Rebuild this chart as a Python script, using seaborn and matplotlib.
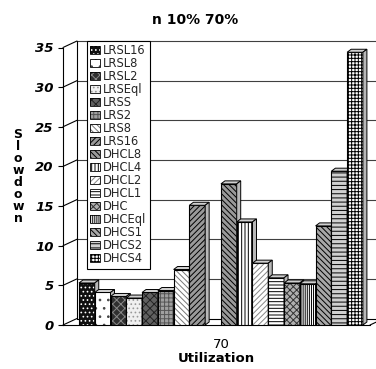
import matplotlib
matplotlib.use("Agg")
import matplotlib.pyplot as plt
from matplotlib.patches import Polygon, Rectangle, Patch
from matplotlib.legend_handler import HandlerTuple
from matplotlib.lines import Line2D
import pandas as pd
import seaborn as sns

# ---- data -------------------------------------------------------------
series = ["LRSL16", "LRSL8", "LRSL2", "LRSEql", "LRSS", "LRS2", "LRS8", "LRS16",
          "DHCL8", "DHCL4", "DHCL2", "DHCL1", "DHC", "DHCEql", "DHCS1", "DHCS2", "DHCS4"]
slowdown = [5.3, 4.1, 3.6, 3.4, 4.1, 4.35, 7.0, 15.1,
            17.8, 13.0, 7.8, 5.95, 5.3, 5.2, 12.5, 19.4, 34.4]
utilization = ["70"]
yticks = [0, 5, 10, 15, 20, 25, 30, 35]

# ---- fill / hatch styling per series ------------------------------------
faces = ["#101010", "white", "#303030", "#f0f0f0", "#606060", "#a0a0a0", "white", "#9a9a9a",
         "#999999", "white", "white", "white", "#b0b0b0", "white", "#a8a8a8", "#d0d0d0", "white"]
hatches = ["....", "..", "xxxx", "....", "xxxx", "++++", "\\\\\\\\\\\\", "//////",
           "\\\\\\\\\\\\", "|||||", "//////", "-----", "xxxxx", "||||||||", "\\\\\\\\\\\\", "----", "+++++"]
hatch_colors = ["white", "#444444", "#888888", "#999999", "#222222", "#555555", "#777777", "black",
                "black", "black", "#888888", "black", "#333333", "black", "black", "black", "black"]

# the two scheduler families are separated by one empty slot
spacer = " "
hue_order = series[:8] + [spacer] + series[8:]

df = pd.DataFrame({
    "Utilization": utilization * len(series),
    "series": series,
    "Slowdown": slowdown,
})

sns.set_theme(style="white")
plt.rcParams["font.family"] = ["DejaVu Sans"]
plt.rcParams["hatch.linewidth"] = 0.7

W, H = 376, 369
fig = plt.figure(figsize=(W / 100, H / 100), dpi=100)
fig.patch.set_facecolor("white")

ax_left, ax_right, ax_bottom, ax_top = 63, 370, 325, 47.5
ax = fig.add_axes([ax_left / W, (H - ax_bottom) / H,
                   (ax_right - ax_left) / W, (ax_bottom - ax_top) / H])
ax.set_facecolor("none")

palette = {name: "white" for name in hue_order}
sns.barplot(data=df, x="Utilization", y="Slowdown", hue="series", hue_order=hue_order,
            palette=palette, dodge=True, width=0.8, errorbar=None, saturation=1,
            legend=False, ax=ax)

ax.set_xlim(-0.445, 0.42)
ax.set_ylim(0, 35)
ax.set_yticks(yticks)

# pixel -> data conversion for the 3-D depth effect
x0l, x1l = ax.get_xlim()
px_x = (x1l - x0l) / (ax_right - ax_left)
px_y = 35 / (ax_bottom - ax_top)

# ---- back wall, floor and gridlines -------------------------------------
wdx, wdy = 14 * px_x, 6.5 * px_y
frame_kw = dict(color="black", lw=0.8, clip_on=False, zorder=1)
for t in yticks:
    ax.add_line(Line2D([x0l, x0l + wdx], [t, t + wdy], **frame_kw))
    ax.add_line(Line2D([x0l + wdx, x1l + wdx], [t + wdy, t + wdy],
                       color="#404040" if t else "black", lw=0.8, clip_on=False, zorder=1))
ax.add_line(Line2D([x0l + wdx, x0l + wdx], [wdy, 35 + wdy], **frame_kw))
ax.add_line(Line2D([x1l, x1l + wdx], [0, wdy], **frame_kw))

# ---- bars: front face + top + side -------------------------------------
bars = sorted([p for p in ax.patches if isinstance(p, Rectangle) and p.get_height() > 0],
              key=lambda p: p.get_x())
bdx, bdy = 4 * px_x, 3 * px_y
for i, (p, fc, ht, hc) in enumerate(zip(bars, faces, hatches, hatch_colors)):
    z = 3 + i * 0.01
    p.set_facecolor(fc)
    p.set_hatch(ht)
    p.set_edgecolor(hc)
    p.set_linewidth(0)
    p.set_zorder(z)
    x, w, h = p.get_x(), p.get_width(), p.get_height()
    ax.add_patch(Rectangle((x, 0), w, h, fill=False, ec="black", lw=0.8, zorder=z + 0.002))
    top = Polygon([(x, h), (x + w, h), (x + w + bdx, h + bdy), (x + bdx, h + bdy)],
                  closed=True, fc="#cfcfcf", ec="black", lw=0.7, zorder=z + 0.004, clip_on=False)
    side = Polygon([(x + w, 0), (x + w, h), (x + w + bdx, h + bdy), (x + w + bdx, bdy)],
                   closed=True, fc="#b8b8b8", ec="black", lw=0.7, zorder=z + 0.004, clip_on=False)
    ax.add_patch(top)
    ax.add_patch(side)

# ---- axes styling ------------------------------------------------------
for s in ("top", "right"):
    ax.spines[s].set_visible(False)
for s in ("left", "bottom"):
    ax.spines[s].set_color("black")
    ax.spines[s].set_linewidth(0.8)

ax.tick_params(axis="y", left=True, length=3.6, width=0.8, pad=3, labelsize=9.5,
               colors="black")
ax.tick_params(axis="x", bottom=False, length=0, pad=9, labelsize=9.5, colors="black")
for lbl in ax.get_yticklabels():
    lbl.set_fontweight("bold")
    lbl.set_fontstyle("italic")

ax.set_xlabel("Utilization", fontsize=9.5, fontweight="bold", labelpad=1, color="black")
ax.set_ylabel("S\nl\no\nw\nd\no\nw\nn", rotation=0, fontsize=9, fontweight="bold",
              linespacing=0.9, ha="center", va="center", color="black")
ax.yaxis.set_label_coords((18 - ax_left) / (ax_right - ax_left),
                          (ax_bottom - 176) / (ax_bottom - ax_top))

ax.set_title("n 10% 70%", fontsize=10, fontweight="bold",
             x=(195.5 - ax_left) / (ax_right - ax_left), pad=17, color="black")

# ---- legend ------------------------------------------------------------
handles = [(Patch(fc=fc, hatch=ht, ec=hc, lw=0), Patch(fill=False, ec="black", lw=0.6))
           for fc, ht, hc in zip(faces, hatches, hatch_colors)]
leg = ax.legend(handles, series, handler_map={tuple: HandlerTuple(ndivide=1)},
                loc="upper left", bbox_to_anchor=(87 / W, 1 - 41 / H),
                bbox_transform=fig.transFigure, borderaxespad=0, borderpad=0.3,
                handlelength=0.8, handleheight=0.7, handletextpad=0.3,
                labelspacing=0.0, prop={"size": 8.3}, frameon=True, fancybox=False,
                framealpha=1, edgecolor="black")
leg.get_frame().set_linewidth(0.8)
leg.set_zorder(10)

fig.savefig("out.png", dpi=100, facecolor="white")
